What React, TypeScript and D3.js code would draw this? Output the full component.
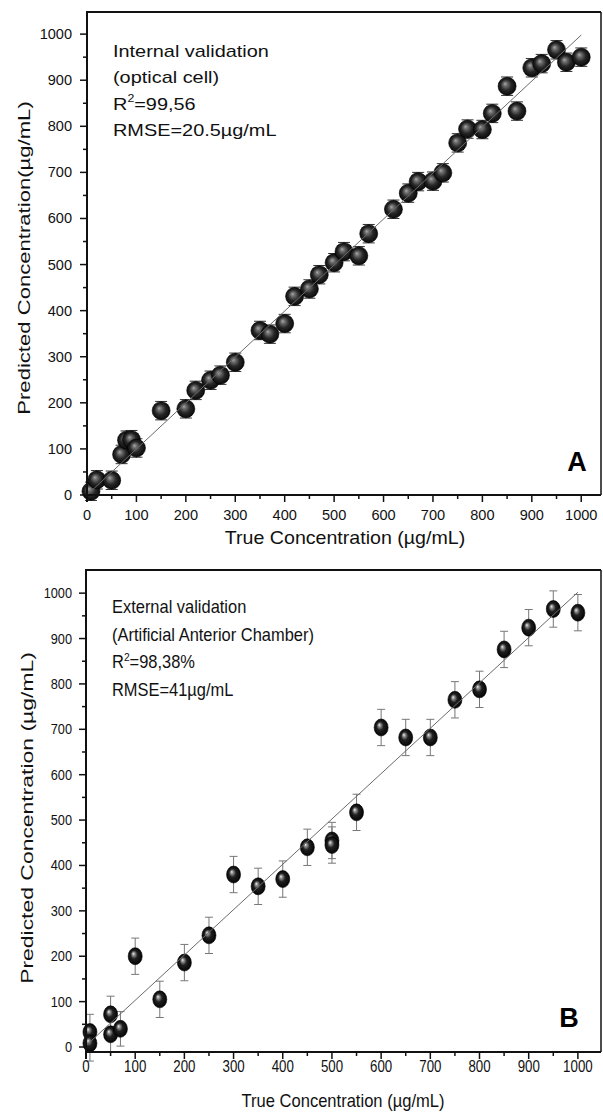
import React from "react";
import * as d3 from "d3";

// panel A: internal validation (optical cell)
const trueA = [8, 20, 50, 70, 80, 90, 100, 150, 200, 220, 250, 270, 300, 350, 370, 400, 420, 450, 470, 500, 520, 550, 570, 620, 650, 670, 700, 720, 750, 770, 800, 820, 850, 870, 900, 920, 950, 970, 1000];
const predA = [8, 33, 32, 88, 119, 120, 102, 183, 187, 227, 249, 260, 288, 357, 349, 372, 431, 447, 478, 504, 528, 519, 567, 620, 655, 680, 681, 699, 764, 794, 793, 828, 887, 833, 927, 936, 966, 939, 950];
const errA = 20;
const fitA = [[0, 0], [1000, 998]];

// panel B: external validation (artificial anterior chamber)
const trueB = [8, 8, 50, 50, 70, 100, 150, 200, 250, 300, 350, 400, 450, 500, 500, 550, 600, 650, 700, 750, 800, 850, 900, 950, 1000];
const predB = [33, 8, 72, 28, 40, 200, 105, 186, 246, 380, 354, 370, 440, 455, 445, 517, 704, 682, 682, 765, 788, 876, 924, 965, 957];
const errB = [39, 39, 40, 40, 38, 40, 40, 40, 40, 40, 40, 40, 40, 40, 40, 40, 40, 40, 40, 40, 40, 40, 40, 40, 40];
const fitB = [[0, 3], [1000, 1002]];

const majorTicks = [0, 100, 200, 300, 400, 500, 600, 700, 800, 900, 1000];
const minorTicks = [50, 150, 250, 350, 450, 550, 650, 750, 850, 950];

const notesA = ["Internal validation", "(optical cell)", "R2=99,56", "RMSE=20.5µg/mL"];
const notesB = ["External validation", "(Artificial Anterior Chamber)", "R2=98,38%", "RMSE=41µg/mL"];

const FONT = "'Liberation Sans', Arial, Helvetica, sans-serif";

function Note({ text, x, y, size, sx }) {
  const isR = text.startsWith("R2");
  return (
    <text transform={`translate(${x},${y}) scale(${sx},1)`} fontSize={size} fontFamily={FONT} fill="#111">
      {isR ? (
        <>
          R<tspan fontSize={size * 0.62} dy={-size * 0.42}>2</tspan>
          <tspan dy={size * 0.42}>{text.slice(2)}</tspan>
        </>
      ) : text}
    </text>
  );
}

function Panel({ cfg }) {
  const x = d3.scaleLinear().domain(cfg.xDomain).range([cfg.left, cfg.right]);
  const y = d3.scaleLinear().domain(cfg.yDomain).range([cfg.bottom, cfg.top]);
  const line = d3.line().x(d => x(d[0])).y(d => y(d[1]));
  const axisY = cfg.bottom;
  return (
    <g>
      {/* error bars */}
      {cfg.xs.map((v, i) => {
        const e = Array.isArray(cfg.err) ? cfg.err[i] : cfg.err;
        const cx = x(v);
        const y1 = y(cfg.ys[i] - e);
        const y2 = y(cfg.ys[i] + e);
        return (
          <g key={"e" + i} stroke={cfg.errColor} strokeWidth={1}>
            <line x1={cx} x2={cx} y1={y1} y2={y2} />
            <line x1={cx - cfg.cap} x2={cx + cfg.cap} y1={y1} y2={y1} />
            <line x1={cx - cfg.cap} x2={cx + cfg.cap} y1={y2} y2={y2} />
          </g>
        );
      })}
      {/* spheres */}
      {cfg.xs.map((v, i) => (
        <ellipse key={"p" + i} cx={x(v)} cy={y(cfg.ys[i])} rx={cfg.rx} ry={cfg.ry}
          fill={`url(#${cfg.grad})`} stroke="#000" strokeWidth={0.6} />
      ))}
      {/* fit line */}
      <path d={line(cfg.fit)} fill="none" stroke="#6a6a6a" strokeWidth={1} />

      {/* frame */}
      <line x1={cfg.left} x2={cfg.right} y1={cfg.top} y2={cfg.top} stroke="#111" strokeWidth={2} />
      <line x1={cfg.right} x2={cfg.right} y1={cfg.top} y2={axisY} stroke="#111" strokeWidth={1.5} />
      <line x1={cfg.left} x2={cfg.left} y1={cfg.top - 1} y2={axisY + 7} stroke="#111" strokeWidth={2} />
      <line x1={cfg.left - 1} x2={cfg.right} y1={axisY} y2={axisY} stroke="#111" strokeWidth={2} />

      {/* y ticks */}
      {majorTicks.map(t => (
        <g key={"yt" + t}>
          <line x1={cfg.left - 7} x2={cfg.left} y1={y(t)} y2={y(t)} stroke="#111" strokeWidth={1.5} />
          <text transform={`translate(${cfg.yLabelX},${y(t) + 5}) scale(${cfg.yTickSx},1)`} textAnchor="end"
            fontSize={cfg.yTickSize} fontFamily={FONT} fill="#111">{t}</text>
        </g>
      ))}
      {minorTicks.map(t => (
        <line key={"ym" + t} x1={cfg.left - 4} x2={cfg.left} y1={y(t)} y2={y(t)} stroke="#111" strokeWidth={1.5} />
      ))}
      {/* x ticks */}
      {majorTicks.map(t => (
        <g key={"xt" + t}>
          <line x1={x(t)} x2={x(t)} y1={axisY} y2={axisY + 7} stroke="#111" strokeWidth={1.5} />
          <text transform={`translate(${x(t)},${cfg.xLabelY}) scale(${cfg.xTickSx},1)`} textAnchor="middle"
            fontSize={cfg.xTickSize} fontFamily={FONT} fill="#111">{t}</text>
        </g>
      ))}
      {minorTicks.map(t => (
        <line key={"xm" + t} x1={x(t)} x2={x(t)} y1={axisY} y2={axisY + 4} stroke="#111" strokeWidth={1.5} />
      ))}

      {/* axis titles */}
      <text transform={`translate(${cfg.xTitle[0]},${cfg.xTitle[1]}) scale(${cfg.xTitle[3]},1)`} textAnchor="middle"
        fontSize={cfg.xTitle[2]} fontFamily={FONT} fill="#111">True Concentration (µg/mL)</text>
      <text transform={`translate(${cfg.yTitle[0]},${cfg.yTitle[1]}) rotate(-90) scale(${cfg.yTitle[3]},1)`} textAnchor="middle"
        fontSize={cfg.yTitle[2]} fontFamily={FONT} fill="#111">{cfg.yTitleText}</text>

      {/* notes */}
      {cfg.notes.map((n, i) => (
        <Note key={n} text={n} x={cfg.noteX} y={cfg.noteY + i * cfg.noteGap} size={cfg.noteSize} sx={cfg.noteSx} />
      ))}
      <text x={cfg.tag[0]} y={cfg.tag[1]} textAnchor="middle" fontSize={27} fontWeight="bold" fontFamily={FONT} fill="#000">{cfg.tagText}</text>
    </g>
  );
}

const panelA = {
  xs: trueA, ys: predA, err: errA, fit: fitA,
  xDomain: [0, 1040], yDomain: [0, 1048],
  left: 87, right: 601, top: 12, bottom: 495,
  rx: 9, ry: 9, cap: 6, errColor: "#333", grad: "sphA",
  yLabelX: 72, yTickSx: 1.04, yTickSize: 14, xLabelY: 520, xTickSx: 1.04, xTickSize: 14,
  xTitle: [345, 544, 18.5, 1.06], yTitle: [30, 258, 17, 1.3],
  yTitleText: "Predicted Concentration(µg/mL)",
  notes: notesA, noteX: 113, noteY: 57, noteGap: 26.3, noteSize: 17, noteSx: 1.17,
  tag: [577, 471], tagText: "A",
};

const panelB = {
  xs: trueB, ys: predB, err: errB, fit: fitB,
  xDomain: [0, 1047], yDomain: [-11, 1051],
  left: 86, right: 601, top: 570, bottom: 1052,
  rx: 7, ry: 8.5, cap: 4, errColor: "#777", grad: "sphB",
  yLabelX: 72, yTickSx: 0.88, yTickSize: 14.5, xLabelY: 1072, xTickSx: 0.83, xTickSize: 16,
  xTitle: [343, 1107, 18, 0.92], yTitle: [33, 818, 16.5, 1.39],
  yTitleText: "Predicted Concentration (µg/mL)",
  notes: notesB, noteX: 112, noteY: 613, noteGap: 27.7, noteSize: 17.5, noteSx: 0.94,
  tag: [569, 1027], tagText: "B",
};

export default function App() {
  return (
    <svg width={603} height={1115} style={{ position: "absolute", left: 0, top: 0, background: "#fff" }}>
      <defs>
        <radialGradient id="sphA" cx="0.5" cy="0.5" r="0.55" fx="0.38" fy="0.36">
          <stop offset="0" stopColor="#a8a8a8" />
          <stop offset="0.22" stopColor="#6a6a6a" />
          <stop offset="0.55" stopColor="#262626" />
          <stop offset="1" stopColor="#050505" />
        </radialGradient>
        <radialGradient id="sphB" cx="0.5" cy="0.5" r="0.55" fx="0.36" fy="0.34">
          <stop offset="0" stopColor="#f2f2f2" />
          <stop offset="0.15" stopColor="#9a9a9a" />
          <stop offset="0.45" stopColor="#202020" />
          <stop offset="1" stopColor="#000" />
        </radialGradient>
      </defs>
      <rect width={603} height={1115} fill="#fff" />
      <Panel cfg={panelA} />
      <Panel cfg={panelB} />
    </svg>
  );
}
